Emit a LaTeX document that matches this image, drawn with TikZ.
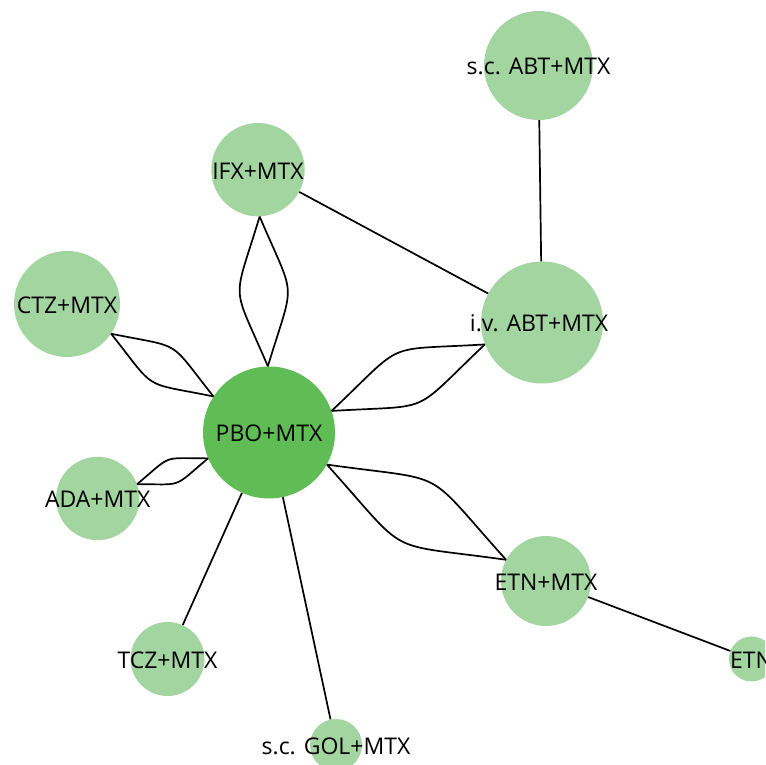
\documentclass[tikz,border=0pt]{standalone}
\usepackage{fontspec}
\setmainfont{Open Sans}
\definecolor{lightg}{HTML}{A3D5A0}
\definecolor{darkg}{HTML}{60BC55}
\begin{document}
\begin{tikzpicture}[x=1pt,y=1pt,
  nd/.style={circle,fill=lightg,draw=none,inner sep=0pt,minimum size=#1},
  hub/.style={circle,fill=darkg,draw=none,inner sep=0pt,minimum size=#1},
  lbl/.style={anchor=base,inner sep=0pt,font=\fontsize{23}{23}\selectfont,text=black},
  conn/.style={draw=black,line width=1.7pt},
  lens/.style={conn,looseness=1.6}]
\useasboundingbox (0,0) rectangle (765,765);
\clip (0,0) rectangle (765,765);
\fill[white] (0,0) rectangle (765,765);
% circles
\node[hub=132pt]  (pbo)  at (269,332.5) {};
\node[nd=109pt]   (sabt) at (538.5,699.5) {};
\node[nd=93.4pt]  (ifx)  at (258,595.3) {};
\node[nd=106pt]   (ctz)  at (67,461) {};
\node[nd=122pt]   (iabt) at (542,442.5) {};
\node[nd=83.4pt]  (ada)  at (97.7,266.5) {};
\node[nd=90pt]    (etn)  at (546,184) {};
\node[nd=45pt]    (etnb) at (751.5,106) {};
\node[nd=74pt]    (tcz)  at (167.5,106) {};
\node[nd=52pt]    (gol)  at (336,20) {};
% straight connectors
\draw[conn] (sabt) -- (iabt);
\draw[conn] (ifx) -- (iabt);
\draw[conn] (etn) -- (etnb);
\draw[conn] (pbo) -- (tcz);
\draw[conn] (pbo) -- (gol);
% double connectors
\draw[lens] (ifx.272) to[bend left=20] (pbo.91);
\draw[lens] (ifx.272) to[bend right=20] (pbo.91);
\draw[lens] (ctz.326.7) to[bend left=20] (pbo.147.3);
\draw[lens] (ctz.326.7) to[bend right=20] (pbo.147.3);
\draw[lens] (ada.20.5) to[bend left=20] (pbo.203);
\draw[lens] (ada.20.5) to[bend right=20] (pbo.203);
\draw[lens] (pbo.19.6) to[bend left=20] (iabt.201.5);
\draw[lens] (pbo.19.6) to[bend right=20] (iabt.201.5);
\draw[lens] (pbo.331.3) to[bend left=20] (etn.152.9);
\draw[lens] (pbo.331.3) to[bend right=20] (etn.152.9);
% labels
\node[lbl] (pbo-l)  at ([yshift=-9.5pt]pbo.center)  {PBO+MTX};
\node[lbl] (sabt-l) at ([yshift=-9.5pt]sabt.center) {s.c. ABT+MTX};
\node[lbl] (ifx-l)  at ([yshift=-9.5pt]ifx.center)  {IFX+MTX};
\node[lbl] (ctz-l)  at ([yshift=-9.5pt]ctz.center)  {CTZ+MTX};
\node[lbl] (iabt-l) at ([xshift=-3pt,yshift=-9.5pt]iabt.center) {i.v. ABT+MTX};
\node[lbl] (ada-l)  at ([yshift=-9.5pt]ada.center)  {ADA+MTX};
\node[lbl] (etn-l)  at ([yshift=-9.5pt]etn.center)  {ETN+MTX};
\node[lbl] (etnb-l) at ([yshift=-9.5pt]etnb.center) {ETN};
\node[lbl] (tcz-l)  at ([yshift=-9.5pt]tcz.center)  {TCZ+MTX};
\node[lbl] (gol-l)  at ([yshift=-9.5pt]gol.center)  {s.c. GOL+MTX};
\end{tikzpicture}
\end{document}
